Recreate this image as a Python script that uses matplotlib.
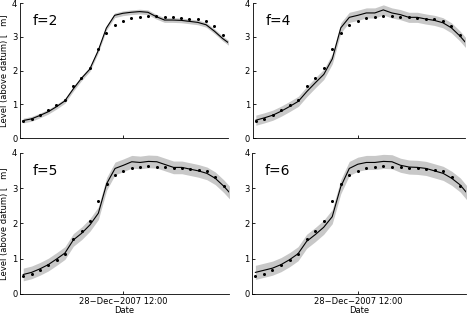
import numpy as np
import matplotlib
matplotlib.use('Agg')
import matplotlib.pyplot as plt
import matplotlib.dates as mdates

# observed levels (same gauge for every panel), 4-hourly
obs = [0.52, 0.57, 0.67, 0.82, 0.97, 1.14, 1.55, 1.79, 2.08, 2.64, 3.12, 3.36,
       3.48, 3.56, 3.60, 3.63, 3.61, 3.59, 3.58, 3.56, 3.54, 3.52, 3.48, 3.33, 3.07]

# simulated mean level per panel (one extra step at the end)
model = {
    'f=2': [0.52, 0.57, 0.67, 0.78, 0.93, 1.10, 1.45, 1.77, 2.04, 2.58, 3.26, 3.64, 3.70,
            3.73, 3.75, 3.73, 3.60, 3.50, 3.50, 3.49, 3.46, 3.43, 3.36, 3.17, 2.95, 2.77],
    'f=4': [0.53, 0.60, 0.68, 0.80, 0.94, 1.09, 1.38, 1.64, 1.89, 2.35, 3.27, 3.58, 3.64,
            3.71, 3.71, 3.80, 3.71, 3.66, 3.58, 3.58, 3.53, 3.49, 3.42, 3.27, 3.03, 2.74],
    'f=5': [0.55, 0.61, 0.71, 0.83, 0.99, 1.16, 1.53, 1.72, 1.96, 2.29, 3.13, 3.56, 3.65,
            3.75, 3.73, 3.76, 3.75, 3.67, 3.59, 3.59, 3.54, 3.49, 3.42, 3.28, 3.06, 2.80],
    'f=6': [0.61, 0.67, 0.73, 0.83, 0.97, 1.14, 1.49, 1.68, 1.89, 2.19, 3.04, 3.56, 3.68,
            3.73, 3.73, 3.76, 3.75, 3.65, 3.60, 3.59, 3.56, 3.49, 3.42, 3.28, 3.09, 2.80],
}
# half width of the uncertainty band per panel
spread = {'f=2': 0.07, 'f=4': 0.15, 'f=5': 0.18, 'f=6': 0.20}

t0 = np.datetime64('2007-12-26T12:00')
t_obs = t0 + np.arange(len(obs)) * np.timedelta64(4, 'h')
t_mod = t0 + np.arange(len(model['f=2'])) * np.timedelta64(4, 'h')
t_mid = np.datetime64('2007-12-28T12:00')
xlim = (t_obs[0] - np.timedelta64(90, 'm'), t_obs[-1] + np.timedelta64(150, 'm'))

fig = plt.figure(figsize=(4.67, 3.16), dpi=100)
positions = {
    'f=2': [0.043, 0.563, 0.445, 0.427],
    'f=4': [0.541, 0.563, 0.455, 0.427],
    'f=5': [0.043, 0.070, 0.447, 0.446],
    'f=6': [0.540, 0.070, 0.457, 0.446],
}

for name, pos in positions.items():
    ax = fig.add_axes(pos)
    m = np.array(model[name])
    s = spread[name]
    ax.fill_between(t_mod, m - s, m + s, color='#c8c8c8', lw=0)
    ax.plot(t_mod, m, color='k', lw=0.8)
    ax.plot(t_obs, obs, 'o', color='k', ms=2.2, mec='none')
    ax.set_xlim(*xlim)
    ax.set_ylim(0, 4)
    ax.set_yticks([0, 1, 2, 3, 4])
    ax.set_xticks([t_mid])
    for sp in ['top', 'right']:
        ax.spines[sp].set_visible(False)
    for sp in ['left', 'bottom']:
        ax.spines[sp].set_linewidth(0.6)
    ax.tick_params(direction='in', length=2.5, width=0.6, labelsize=6, pad=2)
    ax.text(0.06, 0.84, name, transform=ax.transAxes, fontsize=10)
    bottom = pos[1] < 0.3
    if bottom:
        ax.set_xticklabels(['28\u2212Dec\u20132007 12:00'.replace('\u2013', '\u2212')])
        ax.set_xlabel('Date', fontsize=6, labelpad=0)
    else:
        ax.set_xticklabels([''])
    if pos[0] < 0.3:
        ax.set_ylabel('Level (above datum) [   m]', fontsize=6, labelpad=2)

fig.savefig('out.png', dpi=100)
